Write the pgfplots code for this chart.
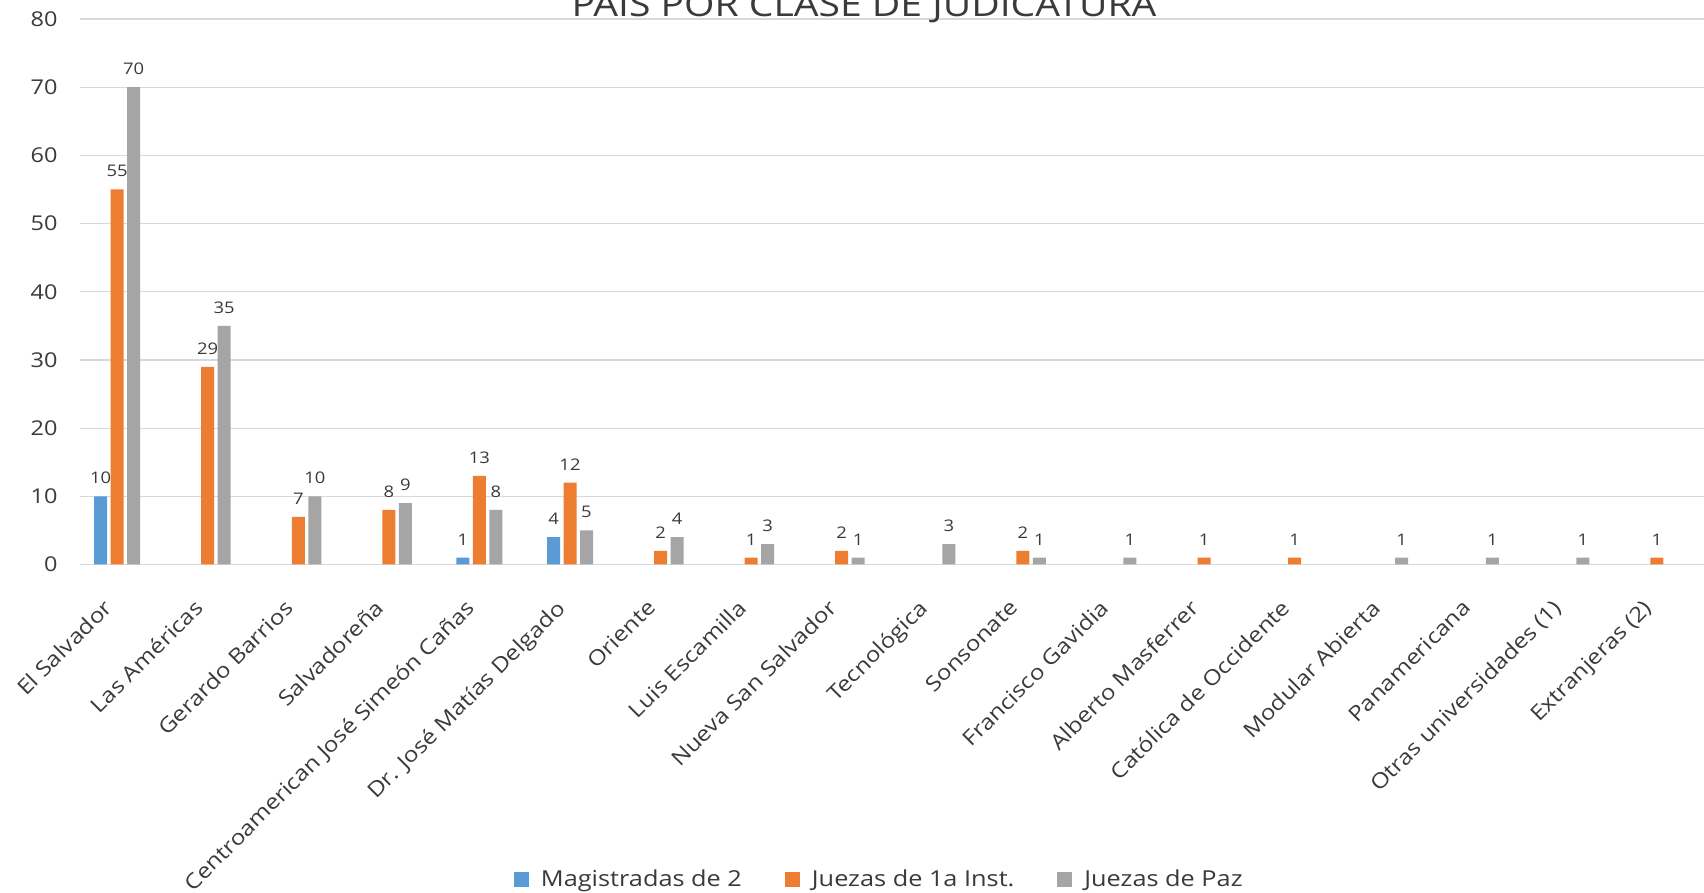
\documentclass[border=0pt]{standalone}
\usepackage{fontspec}
\setmainfont{Open Sans}[FakeStretch=1.15]
\usepackage{pgfplots}
\pgfplotsset{compat=1.18}
\definecolor{cBlue}{HTML}{5B9BD5}
\definecolor{cOrange}{HTML}{ED7D31}
\definecolor{cGray}{HTML}{A5A5A5}
\definecolor{cText}{HTML}{3A3A3A}
\definecolor{cGrid}{HTML}{D9D9D9}
\begin{document}
\begin{tikzpicture}
\useasboundingbox (-40pt,-164.25pt) rectangle (812pt,282.25pt);
\clip (-40pt,-164.25pt) rectangle (812pt,282.25pt);
\begin{axis}[
  at={(0pt,0pt)}, anchor=south west,
  scale only axis, width=812pt, height=272.75pt,
  ybar, bar width=6.5pt,
  xmin=-0.41, xmax=17.52, ymin=0, ymax=80,
  ytick={0,10,...,80},
  axis line style={draw=none},
  ymajorgrids, major grid style={cGrid, line width=0.6pt},
  tick style={draw=none},
  xtick={0,...,17},
  xticklabels={El Salvador, Las Américas, Gerardo Barrios, Salvadoreña, Centroamerican José Simeón Cañas, Dr. José Matías Delgado, Oriente, Luis Escamilla, Nueva San Salvador, Tecnológica, Sonsonate, Francisco Gavidia, Alberto Masferrer, Católica de Occidente, Modular Abierta, Panamericana, Otras universidades (1), Extranjeras (2)},
  xticklabel style={rotate=45, anchor=north east, font=\fontsize{10.5}{12}\selectfont, text=cText, inner sep=1pt, yshift=-2.5pt, xshift=-13pt},
  yticklabel style={font=\fontsize{10.2}{12}\selectfont, text=cText, xshift=-7.75pt},
  /pgf/number format/assume math mode=true,
  nodes near coords,
  every node near coord/.append style={font=\fontsize{8}{10}\selectfont, text=cText, inner sep=2pt, yshift=4pt},
  legend style={at={(0.4928,-0.578)}, anchor=center, draw=none, legend columns=3,
    font=\fontsize{11}{13}\selectfont, text=cText,
    /tikz/every odd column/.append style={column sep=4pt},
    /tikz/every even column/.append style={column sep=19.5pt}},
  legend image code/.code={\fill[#1] (0pt,-3.75pt) rectangle (7.5pt,3.75pt);},
  title={PAÍS POR CLASE DE JUDICATURA},
  every axis title shift=0pt,
  title style={at={(0.4828,1)}, anchor=base, yshift=1.5pt, font=\fontsize{17}{20}\selectfont, text=cText},
]
\addplot[fill=cBlue, draw=none, bar shift=-8.25pt] coordinates {(0,10) (4,1) (5,4)};
\addplot[fill=cOrange, draw=none, bar shift=0pt] coordinates {(0,55) (1,29) (2,7) (3,8) (4,13) (5,12) (6,2) (7,1) (8,2) (10,2) (12,1) (13,1) (17,1)};
\addplot[fill=cGray, draw=none, bar shift=8.25pt] coordinates {(0,70) (1,35) (2,10) (3,9) (4,8) (5,5) (6,4) (7,3) (8,1) (9,3) (10,1) (11,1) (14,1) (15,1) (16,1)};
\legend{Magistradas de 2, Juezas de 1a Inst., Juezas de Paz}
\end{axis}
\end{tikzpicture}
\end{document}
